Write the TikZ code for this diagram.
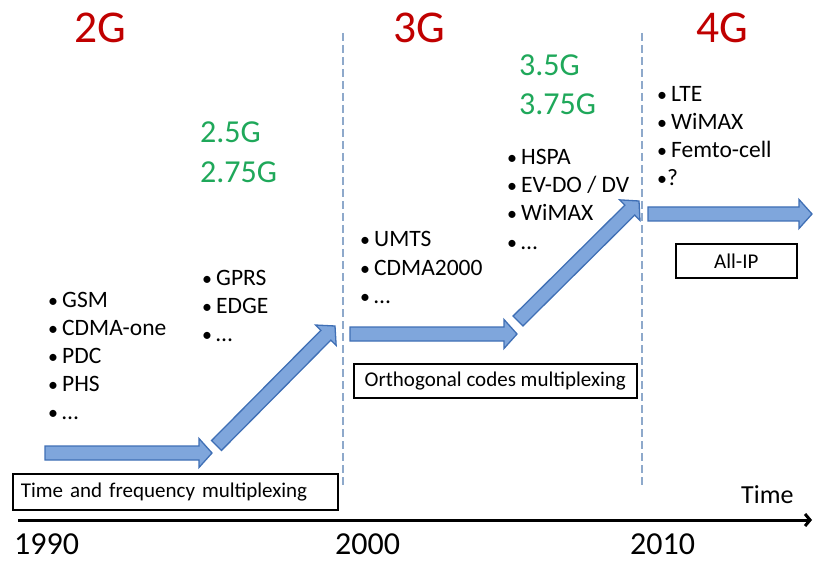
\documentclass[tikz,border=0pt]{standalone}
\usepackage{fontspec}
\setmainfont{Carlito}
\usetikzlibrary{calc,arrows.meta}
\definecolor{gred}{HTML}{C00000}
\definecolor{ggreen}{HTML}{1FA85A}
\definecolor{afill}{HTML}{7FA6DC}
\definecolor{adraw}{HTML}{3F6FB5}
\definecolor{dashc}{HTML}{8EA9CB}
\tikzset{
 barrow/.style={fill=afill,draw=adraw,line width=1.3pt,line join=miter},
 gtitle/.style={text=gred,font=\fontsize{45.5}{50}\selectfont,anchor=base west,inner sep=0},
 gsub/.style={text=ggreen,font=\fontsize{32}{36}\selectfont,anchor=base west,inner sep=0},
 item/.style={font=\fontsize{23.5}{28}\selectfont,anchor=base west,inner sep=0},
 year/.style={font=\fontsize{32}{36}\selectfont,anchor=base west,inner sep=0},
 boxlbl/.style={draw=black,line width=1.6pt,font=\fontsize{21}{25}\selectfont,anchor=north west,inner ysep=0pt},
 sep/.style={draw=dashc,line width=1.2pt,dash pattern=on 8pt off 4pt},
 axis/.style={line width=3pt,-{Straight Barb[length=5pt,width=12pt]}},
}
\newcommand\blkarrow[2]{%
 \path ($(#2)!13pt!(#1)$) coordinate (#1h);
 \filldraw[barrow] ($(#1)!7pt!90:(#2)$) -- ($(#1h)!7pt!90:(#2)$) -- ($(#1h)!14.5pt!90:(#2)$) -- (#2) -- ($(#1h)!14.5pt!-90:(#2)$) -- ($(#1h)!7pt!-90:(#2)$) -- ($(#1)!7pt!-90:(#2)$) -- cycle;}
\newcommand\blist[4]{%
 \foreach \t [count=\i] in {#4} {
   \node[item] (#1-\i) at (#2, {#3+28*(\i-1)}) {\makebox[14pt][l]{\scalebox{0.85}{•}}\t};
 }}
\begin{document}
\begin{tikzpicture}[x=1pt,y=-1pt]
\useasboundingbox (0,0) rectangle (813,561);
% separators
\coordinate (d1t) at (343,33); \coordinate (d1b) at (343,486);
\coordinate (d2t) at (642,33); \coordinate (d2b) at (642,486);
\draw[sep] (d1t) -- (d1b);
\draw[sep] (d2t) -- (d2b);
% titles
\node[gtitle] (t2g) at (74,43) {2G};
\node[gtitle] (t3g) at (393,43) {3G};
\node[gtitle] (t4g) at (696,43) {4G};
\node[gsub] (g25) at (200,143) {2.5G};
\node[gsub] (g275) at (200,183) {2.75G};
\node[gsub] (g35) at (519,76) {3.5G};
\node[gsub] (g375) at (519,115) {3.75G};
% lists
\blist{la}{48}{307}{GSM,CDMA-one,PDC,PHS,…}
\blist{lb}{202}{285}{GPRS,EDGE,…}
\blist{lc}{360}{247}{UMTS,CDMA2000,…}
\blist{ld}{507}{165}{HSPA,EV-DO / DV,WiMAX,…}
\blist{le}{657}{102}{LTE,WiMAX,Femto-cell,\hspace{-4pt}?}
% block arrows
\coordinate (a1s) at (45,453);   \coordinate (a1e) at (212,453);
\coordinate (a2s) at (216.5,445.5); \coordinate (a2e) at (335,326);
\coordinate (a3s) at (350,334);  \coordinate (a3e) at (517,334);
\coordinate (a4s) at (518,321);  \coordinate (a4e) at (639,201);
\coordinate (a5s) at (648,214);  \coordinate (a5e) at (812,214);
\blkarrow{a1s}{a1e}
\blkarrow{a2s}{a2e}
\blkarrow{a3s}{a3e}
\blkarrow{a4s}{a4e}
\blkarrow{a5s}{a5e}
% boxes
\node[boxlbl,minimum height=36pt,text width=309pt,inner xsep=8pt,align=left] (b1) at (12,473) {Time and frequency multiplexing};
\node[boxlbl,minimum height=34pt,minimum width=283pt,inner xsep=0pt] (b2) at (353,363) {Orthogonal codes multiplexing};
\node[boxlbl,minimum height=34pt,minimum width=121pt,inner xsep=0pt] (b3) at (675,243) {All-IP};
% time axis
\coordinate (ax1) at (18,520); \coordinate (ax2) at (812,520);
\draw[axis] (ax1) -- (ax2);
\node[font=\fontsize{26}{30}\selectfont,anchor=base west,inner sep=0] (time) at (741,503) {Time};
\node[year] (y1990) at (14,554) {1990};
\node[year] (y2000) at (335,554) {2000};
\node[year] (y2010) at (630,554) {2010};
\end{tikzpicture}
\end{document}
